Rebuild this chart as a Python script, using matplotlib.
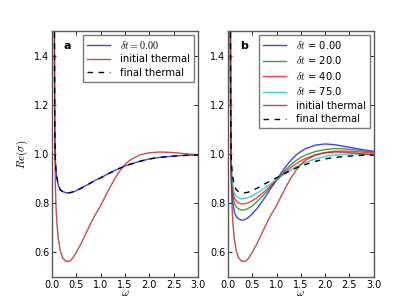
import matplotlib
matplotlib.use("Agg")
import matplotlib.pyplot as plt

omega = [0.045, 0.05, 0.055, 0.06, 0.07, 0.08, 0.09, 0.10, 0.13, 0.17, 0.22, 0.28,
         0.34, 0.40, 0.50, 0.60, 0.70, 0.80, 0.90, 1.00, 1.10, 1.20, 1.30, 1.40,
         1.50, 1.60, 1.80, 2.00, 2.20, 2.40, 2.60, 2.80, 3.00]

initial_thermal = [3.0, 1.45, 1.15, 1.00, 0.87, 0.80, 0.755, 0.72, 0.655, 0.607, 0.578, 0.564,
                   0.563, 0.570, 0.600, 0.637, 0.678, 0.720, 0.757, 0.790, 0.830, 0.868, 0.903, 0.933,
                   0.957, 0.975, 0.996, 1.005, 1.008, 1.007, 1.004, 1.000, 0.997]

final_thermal = [3.0, 1.5, 1.2, 1.06, 0.975, 0.94, 0.92, 0.905, 0.872, 0.855, 0.847, 0.843,
                 0.842, 0.844, 0.851, 0.861, 0.872, 0.883, 0.894, 0.903, 0.914, 0.924, 0.934, 0.943,
                 0.951, 0.958, 0.970, 0.980, 0.986, 0.990, 0.993, 0.995, 0.996]

# panel a: delta t = 0.00 coincides with the final thermal curve
delta0_a = [3.0, 1.5, 1.2, 1.06, 0.975, 0.94, 0.92, 0.905, 0.872, 0.855, 0.847, 0.843,
            0.842, 0.844, 0.851, 0.861, 0.872, 0.883, 0.894, 0.903, 0.914, 0.924, 0.934, 0.943,
            0.951, 0.958, 0.970, 0.980, 0.986, 0.990, 0.993, 0.995, 0.996]

# panel b
delta0_b = [3.0, 1.45, 1.15, 1.0, 0.90, 0.845, 0.82, 0.80, 0.765, 0.746, 0.736, 0.731,
            0.733, 0.739, 0.756, 0.779, 0.806, 0.835, 0.865, 0.894, 0.924, 0.951, 0.975, 0.995,
            1.010, 1.022, 1.036, 1.041, 1.038, 1.031, 1.024, 1.017, 1.011]
delta20_b = [3.0, 1.46, 1.16, 1.02, 0.92, 0.87, 0.845, 0.83, 0.800, 0.785, 0.777, 0.772,
             0.773, 0.777, 0.789, 0.806, 0.826, 0.848, 0.871, 0.894, 0.917, 0.938, 0.957, 0.973,
             0.986, 0.996, 1.010, 1.018, 1.022, 1.021, 1.017, 1.012, 1.008]
delta40_b = [3.0, 1.47, 1.17, 1.03, 0.94, 0.89, 0.865, 0.85, 0.822, 0.808, 0.801, 0.797,
             0.798, 0.801, 0.810, 0.823, 0.839, 0.856, 0.875, 0.894, 0.912, 0.930, 0.946, 0.960,
             0.972, 0.982, 0.997, 1.006, 1.011, 1.012, 1.010, 1.007, 1.004]
delta75_b = [3.0, 1.48, 1.18, 1.04, 0.955, 0.91, 0.885, 0.87, 0.842, 0.828, 0.822, 0.818,
             0.819, 0.822, 0.830, 0.841, 0.854, 0.868, 0.882, 0.896, 0.910, 0.923, 0.936, 0.947,
             0.957, 0.966, 0.980, 0.990, 0.996, 0.999, 1.000, 0.999, 0.998]

xticks = [0.0, 0.5, 1.0, 1.5, 2.0, 2.5, 3.0]
yticks = [0.6, 0.8, 1.0, 1.2, 1.4]

plt.rcParams['mathtext.fontset'] = 'cm'
plt.rcParams['font.family'] = 'DejaVu Sans'

fig = plt.figure(figsize=(4.15, 3.08), dpi=100)
fig.patch.set_facecolor('white')
ax_a = fig.add_axes([0.1253, 0.1006, 0.3518, 0.7987])
ax_b = fig.add_axes([0.5494, 0.1006, 0.3506, 0.7987])

lw = 1.0
ax_a.plot(omega, delta0_a, color='b', lw=lw, alpha=0.75, label=r'$\delta t = 0.00$')
ax_a.plot(omega, initial_thermal, color='#b22222', lw=lw, alpha=0.8, label='initial thermal')
ax_a.plot(omega, final_thermal, color='k', lw=lw, ls=(0, (4, 4)), label='final thermal')

ax_b.plot(omega, delta0_b, color='b', lw=lw, alpha=0.75, label=r'$\delta t$ = 0.00')
ax_b.plot(omega, delta20_b, color='g', lw=lw, alpha=0.75, label=r'$\delta t$ = 20.0')
ax_b.plot(omega, delta40_b, color='r', lw=lw, alpha=0.75, label=r'$\delta t$ = 40.0')
ax_b.plot(omega, delta75_b, color='c', lw=lw, alpha=0.75, label=r'$\delta t$ = 75.0')
ax_b.plot(omega, initial_thermal, color='#b22222', lw=lw, alpha=0.8, label='initial thermal')
ax_b.plot(omega, final_thermal, color='k', lw=lw, ls=(0, (4, 4)), label='final thermal')

for ax, lab in ((ax_a, 'a'), (ax_b, 'b')):
    ax.set_xlim(0, 3.0)
    ax.set_ylim(0.5, 1.5)
    ax.set_xticks(xticks)
    ax.set_yticks(yticks)
    ax.tick_params(direction='in', top=True, right=True, length=3, width=0.6,
                   labelsize=7, pad=2, colors='k')
    for s in ax.spines.values():
        s.set_color('0.35')
        s.set_linewidth(1.0)
    ax.set_xlabel(r'$\omega$', fontsize=8, labelpad=-1)
    ax.text(0.08, 0.94, lab, transform=ax.transAxes, fontsize=8, fontweight='bold',
            va='center', ha='left')
    leg = ax.legend(loc='upper right', fontsize=7.2, handlelength=2.3, handletextpad=1.0,
                    borderpad=0.4, labelspacing=0.35, borderaxespad=0.35, fancybox=False)
    leg.get_frame().set_edgecolor('0.35')
    leg.get_frame().set_linewidth(1.0)

ax_a.set_ylabel(r'$Re(\sigma)$', fontsize=8, labelpad=3)

fig.savefig('out.png', dpi=100, facecolor='white')
